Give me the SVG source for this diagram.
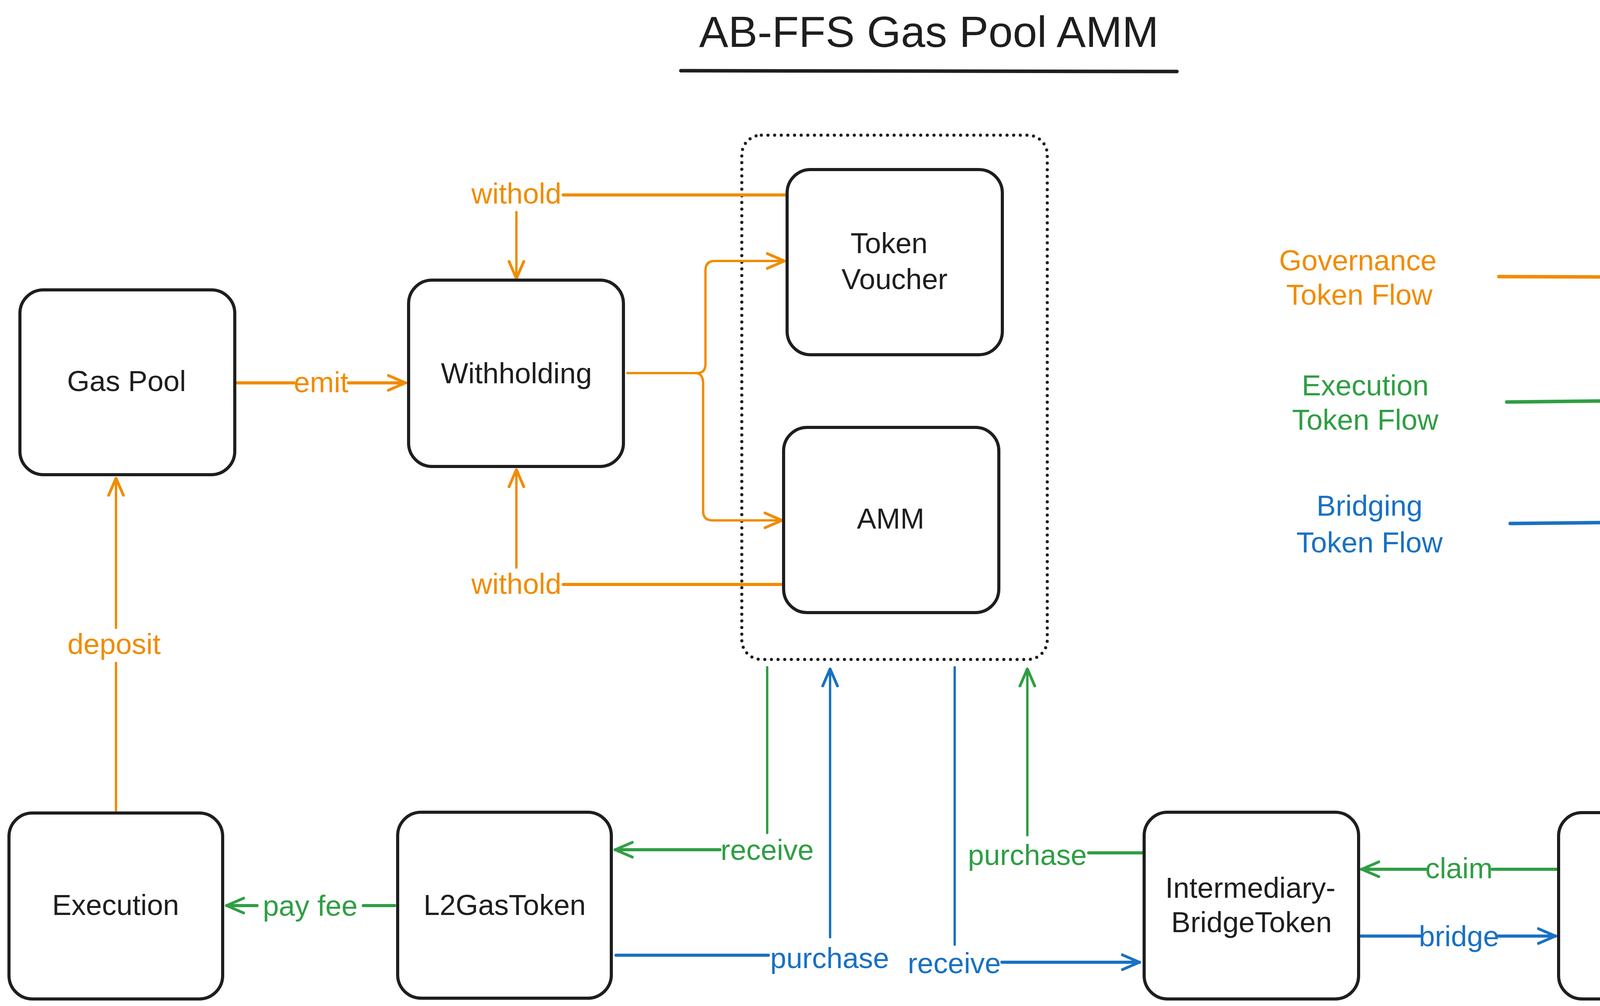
<svg xmlns="http://www.w3.org/2000/svg" width="4558" height="2575" viewBox="0 0 4558 2575">
<style>
.box{fill:#ffffff;stroke:#1e1e1e;stroke-width:8}
.nt{font-family:"Liberation Sans",Arial,sans-serif;font-size:74px;fill:#1e1e1e;text-anchor:middle;dominant-baseline:central}
.lt{font-family:"Liberation Sans",Arial,sans-serif;font-size:74px;text-anchor:middle;dominant-baseline:central}
.co{fill:#f08c00}.cg{fill:#2f9e44}.cb{fill:#1971c2}
.so{stroke:#f08c00;fill:none;stroke-linecap:round;stroke-linejoin:round}
.sg{stroke:#2f9e44;fill:none;stroke-linecap:round;stroke-linejoin:round}
.sb{stroke:#1971c2;fill:none;stroke-linecap:round;stroke-linejoin:round}
.h{stroke-width:8}.v{stroke-width:6}
</style>
<defs>
<marker id="ao" viewBox="0 0 50 50" refX="47" refY="25" markerWidth="50" markerHeight="50" markerUnits="userSpaceOnUse" orient="auto"><path d="M3,6 L47,25 L3,44" fill="none" stroke="#f08c00" stroke-width="7" stroke-linecap="round" stroke-linejoin="round"/></marker>
<marker id="ag" viewBox="0 0 50 50" refX="47" refY="25" markerWidth="50" markerHeight="50" markerUnits="userSpaceOnUse" orient="auto"><path d="M3,6 L47,25 L3,44" fill="none" stroke="#2f9e44" stroke-width="7" stroke-linecap="round" stroke-linejoin="round"/></marker>
<marker id="ab" viewBox="0 0 50 50" refX="47" refY="25" markerWidth="50" markerHeight="50" markerUnits="userSpaceOnUse" orient="auto"><path d="M3,6 L47,25 L3,44" fill="none" stroke="#1971c2" stroke-width="7" stroke-linecap="round" stroke-linejoin="round"/></marker>
</defs>
<rect x="0" y="0" width="4558" height="2575" fill="#ffffff"/>

<g id="title">
<text x="2378" y="120" style="font-family:'Liberation Sans',Arial,sans-serif;font-size:112px;fill:#1e1e1e;text-anchor:middle">AB-FFS Gas Pool AMM</text>
<line x1="1743" y1="181" x2="3013" y2="183" stroke="#1e1e1e" stroke-width="9" stroke-linecap="round"/>
</g>

<g id="container">
<rect x="1899" y="346" width="782" height="1342" rx="50" fill="none" stroke="#1e1e1e" stroke-width="8" stroke-dasharray="0 17" stroke-linecap="round"/>
</g>

<g id="connectors">
<g id="witheld-top">
<path class="so h" d="M2012,499 L1442,499"/>
<path class="so v" d="M1322,543 L1322,713" marker-end="url(#ao)"/>
<text class="lt co" x="1322" y="495">withold</text>
</g>
<g id="emit">
<path class="so h" d="M606,980 L752,980 M892,980 L1038,980" marker-end="url(#ao)"/>
<text class="lt co" x="822" y="978">emit</text>
</g>
<g id="branch">
<path class="so v" d="M1606,955 L1784,955 Q1806,955 1806,932 L1806,692 Q1806,668 1830,668 L2008,668" marker-end="url(#ao)"/>
<path class="so v" d="M1784,955 Q1800,958 1800,982 L1800,1308 Q1800,1332 1824,1332 L2002,1332" marker-end="url(#ao)"/>
</g>
<g id="witheld-bottom">
<path class="so h" d="M2004,1496 L1442,1496"/>
<path class="so v" d="M1322,1453 L1322,1202" marker-end="url(#ao)"/>
<text class="lt co" x="1322" y="1494">withold</text>
</g>
<g id="deposit">
<path class="so v" d="M297,2076 L297,1697"/>
<path class="so v" d="M297,1607 L297,1224" marker-end="url(#ao)"/>
<text class="lt co" x="292" y="1648">deposit</text>
</g>
<g id="pay-fee">
<path class="sg h" d="M1010,2318 L930,2318 M658,2318 L580,2318" marker-end="url(#ag)"/>
<text class="lt cg" x="794" y="2318">pay fee</text>
</g>
<g id="receive-green">
<path class="sg v" d="M1964,1708 L1964,2132"/>
<path class="sg h" d="M1843,2175 L1575,2175" marker-end="url(#ag)"/>
<text class="lt cg" x="1964" y="2175">receive</text>
</g>
<g id="purchase-blue">
<path class="sb h" d="M1577,2445 L1967,2445"/>
<path class="sb v" d="M2125,2399 L2125,1712" marker-end="url(#ab)"/>
<text class="lt cb" x="2124" y="2452">purchase</text>
</g>
<g id="receive-blue">
<path class="sb v" d="M2444,1708 L2444,2418"/>
<path class="sb h" d="M2565,2463 L2917,2463" marker-end="url(#ab)"/>
<text class="lt cb" x="2443" y="2465">receive</text>
</g>
<g id="purchase-green">
<path class="sg h" d="M2925,2183 L2787,2183"/>
<path class="sg v" d="M2630,2138 L2630,1712" marker-end="url(#ag)"/>
<text class="lt cg" x="2630" y="2188">purchase</text>
</g>
<g id="claim">
<path class="sg h" d="M3985,2225 L3820,2225 M3650,2225 L3486,2225" marker-end="url(#ag)"/>
<text class="lt cg" x="3735" y="2222">claim</text>
</g>
<g id="bridge-edge">
<path class="sb h" d="M3484,2396 L3636,2396 M3834,2396 L3982,2396" marker-end="url(#ab)"/>
<text class="lt cb" x="3735" y="2396">bridge</text>
</g>
</g>

<g id="gas-pool"><rect class="box" x="51" y="742" width="550" height="473" rx="60"/><text class="nt" x="324" y="975">Gas Pool</text></g>
<g id="withholding"><rect class="box" x="1046" y="717" width="550" height="477" rx="60"/><text class="nt" x="1322" y="955">Withholding</text></g>
<g id="token-voucher"><rect class="box" x="2015" y="434" width="551" height="474" rx="60"/><text class="nt" x="2276" y="622">Token</text><text class="nt" x="2290" y="714">Voucher</text></g>
<g id="amm"><rect class="box" x="2006" y="1094" width="551" height="474" rx="60"/><text class="nt" x="2280" y="1327">AMM</text></g>
<g id="execution"><rect class="box" x="23" y="2081" width="547" height="476" rx="60"/><text class="nt" x="296" y="2316">Execution</text></g>
<g id="l2gastoken"><rect class="box" x="1018" y="2079" width="547" height="476" rx="60"/><text class="nt" x="1292" y="2316">L2GasToken</text></g>
<g id="intermediary-bridge-token"><rect class="box" x="2929" y="2079" width="549" height="478" rx="60"/><text class="nt" x="3201" y="2272">Intermediary-</text><text class="nt" x="3204" y="2360">BridgeToken</text></g>
<g id="bridge"><rect class="box" x="3990" y="2080" width="549" height="477" rx="60"/><text class="nt" x="4264" y="2320">Bridge</text></g>

<g id="legend">
<text class="lt co" x="3476" y="666">Governance</text>
<text class="lt co" x="3480" y="754">Token Flow</text>
<line x1="3837" y1="708" x2="4130" y2="709" stroke="#f08c00" stroke-width="9" stroke-linecap="round"/>
<text class="lt cg" x="3495" y="986">Execution</text>
<text class="lt cg" x="3495" y="1074">Token Flow</text>
<line x1="3857" y1="1029" x2="4146" y2="1026" stroke="#2f9e44" stroke-width="9" stroke-linecap="round"/>
<text class="lt cb" x="3506" y="1294">Bridging</text>
<text class="lt cb" x="3506" y="1388">Token Flow</text>
<line x1="3866" y1="1340" x2="4156" y2="1337" stroke="#1971c2" stroke-width="9" stroke-linecap="round"/>
</g>
</svg>
